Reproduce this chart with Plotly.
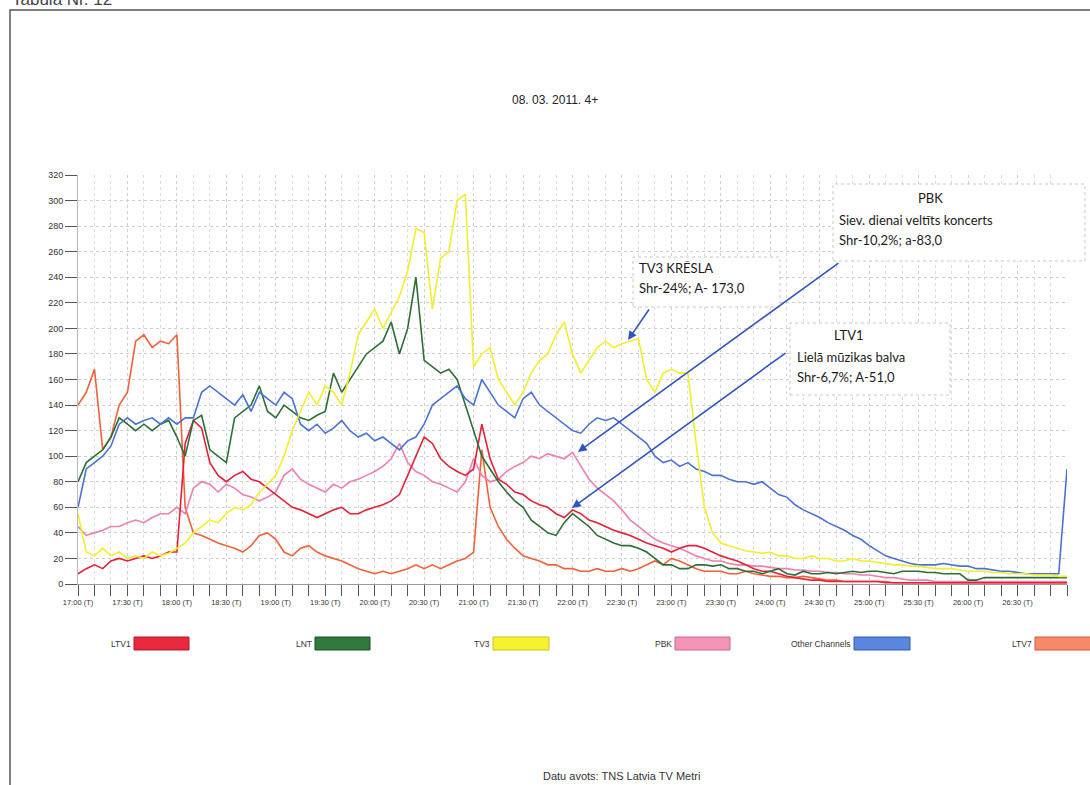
import plotly.graph_objects as go

# ---------------- data (5-minute readings, 17:00 .. 27:00) ----------------
TIME_MIN = list(range(0, 601, 5))  # minutes after 17:00

TICK_LABELS = ["17:00 (T)", "17:30 (T)", "18:00 (T)", "18:30 (T)", "19:00 (T)",
               "19:30 (T)", "20:00 (T)", "20:30 (T)", "21:00 (T)", "21:30 (T)",
               "22:00 (T)", "22:30 (T)", "23:00 (T)", "23:30 (T)", "24:00 (T)",
               "24:30 (T)", "25:00 (T)", "25:30 (T)", "26:00 (T)", "26:30 (T)"]
TICK_MIN = list(range(0, 571, 30))

LTV1 = [
    8, 12, 15, 12, 18, 20, 18, 20, 22, 20, 22, 25,
    25, 110, 128, 122, 95, 85, 80, 85, 88, 82, 80, 75,
    70, 65, 60, 58, 55, 52, 55, 58, 60, 55, 55, 58,
    60, 62, 65, 70, 85, 100, 115, 110, 98, 92, 88, 85,
    90, 125, 98, 82, 78, 72, 70, 65, 62, 60, 55, 52,
    58, 55, 50, 48, 45, 42, 40, 38, 35, 32, 30, 28,
    25, 28, 30, 30, 28, 25, 22, 20, 18, 15, 12, 10,
    10, 8, 6, 5, 4, 3, 3, 2, 2, 2, 2, 2,
    2, 2, 1, 1, 1, 1, 1, 1, 1, 1, 1, 1,
    1, 1, 1, 1, 1, 1, 1, 1, 1, 1, 1, 1,
    1]

LNT = [
    80, 95, 100, 105, 115, 130, 125, 120, 125, 120, 125, 128,
    115, 100, 128, 132, 105, 100, 95, 130, 135, 140, 155, 135,
    130, 140, 135, 130, 128, 132, 135, 165, 150, 160, 170, 180,
    185, 190, 205, 180, 200, 240, 175, 170, 165, 168, 160, 140,
    120, 100, 90, 80, 72, 65, 60, 50, 45, 40, 38, 48,
    55, 50, 45, 38, 35, 32, 30, 30, 28, 25, 20, 15,
    15, 12, 12, 15, 15, 14, 15, 12, 12, 10, 10, 8,
    10, 12, 8, 7, 10, 8, 8, 9, 8, 9, 10, 9,
    10, 10, 9, 8, 10, 10, 10, 9, 9, 8, 8, 8,
    3, 3, 5, 5, 5, 5, 5, 5, 5, 5, 5, 5,
    5]

TV3 = [
    55, 25, 22, 28, 22, 25, 20, 22, 20, 25, 22, 24,
    28, 32, 40, 45, 50, 48, 55, 60, 58, 62, 72, 78,
    85, 100, 120, 135, 150, 140, 155, 150, 140, 165, 195, 205,
    215, 200, 212, 225, 245, 278, 275, 215, 255, 260, 300, 305,
    170, 180, 185, 160, 150, 140, 150, 165, 175, 180, 195, 205,
    180, 165, 175, 185, 190, 185, 188, 190, 192, 160, 150, 165,
    168, 165, 165, 110, 60, 40, 32, 30, 28, 26, 25, 24,
    25, 22, 22, 20, 20, 22, 20, 20, 18, 18, 20, 18,
    18, 17, 16, 15, 15, 14, 14, 13, 12, 12, 12, 11,
    10, 10, 10, 9, 9, 8, 8, 8, 7, 7, 7, 6,
    6]

PBK = [
    45, 38, 40, 42, 45, 45, 48, 50, 48, 52, 55, 55,
    60, 55, 75, 80, 78, 72, 78, 75, 70, 68, 65, 68,
    72, 85, 90, 82, 78, 75, 72, 78, 75, 80, 82, 85,
    88, 92, 98, 110, 95, 88, 85, 80, 78, 75, 72, 80,
    98, 85, 80, 82, 88, 92, 95, 100, 98, 102, 100, 98,
    103, 92, 82, 75, 70, 65, 58, 50, 45, 40, 35, 32,
    30, 28, 25, 22, 20, 18, 18, 16, 15, 15, 14, 14,
    13, 12, 12, 11, 11, 10, 10, 9, 9, 8, 8, 7,
    7, 6, 5, 5, 4, 3, 3, 3, 2, 2, 2, 2,
    2, 2, 2, 2, 2, 2, 2, 2, 2, 2, 2, 2,
    2]

OTHER = [
    60, 90, 95, 100, 108, 125, 130, 125, 128, 130, 125, 130,
    125, 130, 130, 150, 155, 150, 145, 140, 148, 135, 150, 145,
    140, 150, 145, 125, 120, 125, 118, 122, 128, 120, 115, 118,
    112, 115, 110, 105, 112, 115, 125, 140, 145, 150, 155, 145,
    140, 160, 150, 140, 135, 130, 145, 150, 140, 135, 130, 125,
    120, 118, 125, 130, 128, 130, 125, 120, 115, 110, 100, 95,
    97, 92, 95, 90, 88, 85, 85, 82, 80, 80, 78, 80,
    75, 70, 68, 62, 58, 55, 52, 48, 45, 42, 38, 35,
    30, 26, 22, 20, 18, 16, 15, 15, 15, 16, 15, 14,
    14, 12, 12, 11, 10, 10, 9, 8, 8, 8, 8, 8,
    90]

LTV7 = [
    140, 150, 168, 105, 115, 140, 150, 190, 195, 185, 190, 188,
    195, 60, 40, 38, 35, 32, 30, 28, 25, 30, 38, 40,
    35, 25, 22, 28, 30, 25, 22, 20, 18, 15, 12, 10,
    8, 10, 8, 10, 12, 15, 12, 15, 12, 15, 18, 20,
    25, 105, 60, 45, 35, 28, 22, 20, 18, 15, 15, 12,
    12, 10, 10, 12, 10, 10, 12, 10, 12, 15, 18, 15,
    20, 18, 15, 12, 10, 10, 10, 8, 8, 10, 8, 7,
    6, 6, 5, 5, 6, 5, 4, 3, 3, 2, 2, 2,
    2, 2, 2, 1, 1, 1, 1, 1, 1, 1, 1, 1,
    1, 1, 1, 1, 1, 1, 1, 1, 1, 1, 1, 1,
    1]

SERIES_NAMES = ["LTV1", "LNT", "TV3", "PBK", "Other Channels", "LTV7"]
SERIES_VALUES = [LTV1, LNT, TV3, PBK, OTHER, LTV7]
LINE_COLORS = ["#e5203a", "#2c6e36", "#f2ee2e", "#ef7fae", "#4a72d6", "#f0603a"]
SWATCH_COLORS = ["#e8283e", "#2f7a3c", "#f6f230", "#f493b8", "#5b86e0", "#f68a68"]
SWATCH_BORDERS = ["#b01828", "#1d4f25", "#c8c420", "#c86890", "#3558b0", "#c85a38"]

# ---------------- layout helpers (pixel -> paper) ----------------
L, R, T, B = 78, 1067, 175, 584
def px(x):
    return (x - L) / (R - L)
def py(y):
    return (B - y) / (B - T)

fig = go.Figure()
order = [5, 3, 0, 1, 4, 2]
for i in order:
    fig.add_trace(go.Scatter(x=TIME_MIN, y=SERIES_VALUES[i], mode="lines",
                             name=SERIES_NAMES[i],
                             line=dict(color=LINE_COLORS[i], width=1.6)))

shapes = []
annotations = []

# page frame
shapes.append(dict(type="rect", xref="paper", yref="paper",
                   x0=px(10), x1=px(1110), y0=py(10), y1=py(820),
                   line=dict(color="#555555", width=1.5), layer="below"))

# legend (custom, label left of swatch)
legend_pos = [(134, 189), (315, 370), (493, 549), (675, 730), (854, 910), (1035, 1092)]
for i, (x0, x1) in enumerate(legend_pos):
    shapes.append(dict(type="rect", xref="paper", yref="paper",
                       x0=px(x0), x1=px(x1), y0=py(650), y1=py(637),
                       fillcolor=SWATCH_COLORS[i],
                       line=dict(color=SWATCH_BORDERS[i], width=1)))
    annotations.append(dict(xref="paper", yref="paper", x=px(x0 - 1), y=py(643.5),
                            text=SERIES_NAMES[i], showarrow=False,
                            xanchor="right", yanchor="middle",
                            font=dict(family="Liberation Sans", size=8.5, color="#333333")))

# callout boxes
boxes = [(833, 1085, 184, 261), (633, 780, 257, 307), (790, 950, 323, 395)]
for (x0, x1, y0, y1) in boxes:
    shapes.append(dict(type="rect", xref="paper", yref="paper",
                       x0=px(x0), x1=px(x1), y0=py(y1), y1=py(y0),
                       fillcolor="white", line=dict(color="#c8c8c8", width=1, dash="dot"),
                       layer="above"))

box_font = dict(family="Lato", size=13, color="#1a1a1a")
texts = [
    ("PBK", 930, 198, "center"),
    ("Siev. dienai veltīts koncerts", 837, 220, "left"),
    ("Shr-10,2%; a-83,0", 837, 240, "left"),
    ("TV3 KRĒSLA", 637, 268, "left"),
    ("Shr-24%; A- 173,0", 637, 288, "left"),
    ("LTV1", 848, 335, "center"),
    ("Lielā mūzikas balva", 795, 357, "left"),
    ("Shr-6,7%; A-51,0", 795, 377, "left"),
]
for t, x, y, anc in texts:
    annotations.append(dict(xref="paper", yref="paper", x=px(x), y=py(y), text=t,
                            showarrow=False, xanchor=anc, yanchor="middle", font=box_font))

# arrows (head in data coordinates, tail offset in pixels)
arrows = [(303.3, 103.3, 262, -190), (333.7, 190.9, 22, -32), (299.7, 59.5, 215, -156)]
for x, y, ax, ay in arrows:
    annotations.append(dict(xref="x", yref="y", x=x, y=y, ax=ax, ay=ay, text="",
                            showarrow=True, arrowhead=2, arrowsize=1.1, arrowwidth=1.6,
                            arrowcolor="#2f54c0", standoff=0, startstandoff=0))

# title, source, table number
annotations.append(dict(xref="paper", yref="paper", x=px(555), y=py(100),
                        text="08. 03. 2011. 4+", showarrow=False,
                        xanchor="center", yanchor="middle",
                        font=dict(family="Liberation Sans", size=12, color="#222222")))
annotations.append(dict(xref="paper", yref="paper", x=px(621), y=py(776),
                        text="Datu avots: TNS Latvia TV Metri", showarrow=False,
                        xanchor="center", yanchor="middle",
                        font=dict(family="Liberation Sans", size=11, color="#333333")))
annotations.append(dict(xref="paper", yref="paper", x=px(10), y=py(-1),
                        text="Tabula Nr. 12", showarrow=False,
                        xanchor="left", yanchor="middle",
                        font=dict(family="Liberation Sans", size=17, color="#444444")))

fig.update_layout(
    width=1090, height=785,
    margin=dict(l=L, r=1090 - R, t=T, b=785 - B, pad=0),
    paper_bgcolor="white", plot_bgcolor="white",
    showlegend=False,
    shapes=shapes, annotations=annotations,
    xaxis=dict(range=[0, 600], tickmode="array", tickvals=TICK_MIN, ticktext=TICK_LABELS,
               ticks="outside", ticklen=11, tickcolor="#555555", tickwidth=1,
               tickfont=dict(family="Liberation Sans", size=7.5, color="#333333"),
               showgrid=True, gridcolor="#d0d0d0", griddash="dot", gridwidth=1,
               showline=True, linecolor="#999999", linewidth=1, zeroline=False,
               minor=dict(dtick=10, ticks="outside", ticklen=11, tickcolor="#555555",
                          showgrid=True, gridcolor="#dcdcdc", griddash="dot")),
    yaxis=dict(range=[0, 320], dtick=20, tick0=0,
               ticks="outside", ticklen=12, tickcolor="#555555", tickwidth=1,
               tickfont=dict(family="Liberation Sans", size=9, color="#333333"),
               showgrid=True, gridcolor="#cfcfcf", griddash="dot", gridwidth=1,
               showline=True, linecolor="#bbbbbb", linewidth=1, zeroline=False),
)

fig.write_html("out.html", config={"displayModeBar": False},
               post_script="document.body.style.margin='0px';document.body.style.overflow='hidden';")
